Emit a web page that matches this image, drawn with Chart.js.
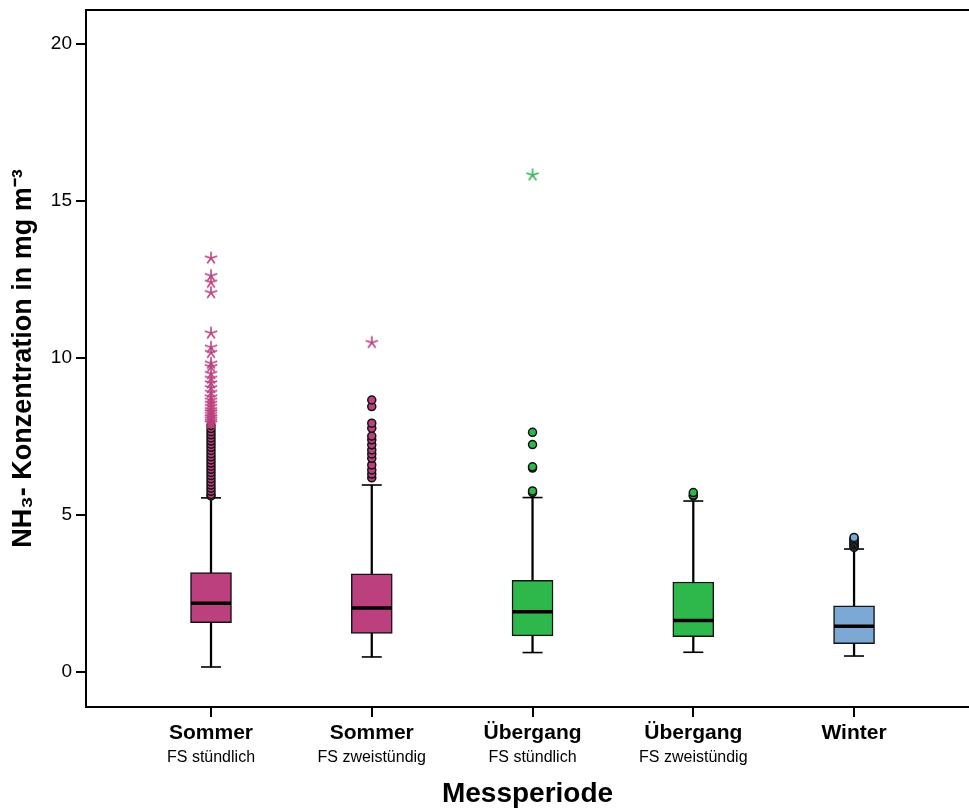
<!DOCTYPE html>
<html lang="de">
<head>
<meta charset="UTF-8">
<title>NH3-Konzentration je Messperiode</title>
<script src="https://cdn.jsdelivr.net/npm/chart.js"></script>
<style>
    body { margin: 0; background: #fff; }
    .wrap { width: 969px; height: 809px; }
</style>
</head>
<body>
<div class="wrap"><canvas id="boxChart"></canvas></div>
<script>
// categories and box statistics (mg m-3)
const categories = ['Sommer', 'Sommer', 'Übergang', 'Übergang', 'Winter'];
const subtitles = ['FS stündlich', 'FS zweistündig', 'FS stündlich', 'FS zweistündig', ''];
const whiskerLow = [0.15, 0.47, 0.61, 0.62, 0.50];
const q1 = [1.56, 1.22, 1.14, 1.12, 0.89];
const median = [2.18, 2.03, 1.91, 1.63, 1.45];
const q3 = [3.16, 3.12, 2.91, 2.86, 2.10];
const whiskerHigh = [5.54, 5.95, 5.55, 5.44, 3.91];
const yTicks = [0, 5, 10, 15, 20];

// outliers (circles) and extreme values (stars)
const sommer1Circles = [5.6, 5.65, 5.75, 5.85, 5.95, 6.05, 6.15, 6.25, 6.35, 6.45, 6.55, 6.65,
    6.75, 6.85, 6.95, 7.05, 7.15, 7.25, 7.35, 7.45, 7.55, 7.65, 7.75, 7.85];
const sommer1Stars = [7.92, 7.98, 8.05, 8.12, 8.2, 8.28, 8.35, 8.45, 8.55, 8.65, 8.75, 8.9,
    9.05, 9.2, 9.35, 9.5, 9.72, 9.83, 10.17, 10.34, 10.79, 12.08, 12.41, 12.62, 13.18];
const sommer2Circles = [6.18, 6.30, 6.43, 6.59, 6.80, 6.94, 7.07, 7.23, 7.39, 7.51, 7.76, 7.92, 8.45, 8.66];
const sommer2Stars = [10.49];
const uebergang1Circles = [5.71, 5.76, 6.49, 6.53, 7.24, 7.63];
const uebergang1Stars = [15.83];
const uebergang2Circles = [5.60, 5.63, 5.71];
const uebergang2Stars = [];
const winterCircles = [3.96, 4.00, 4.04, 4.08, 4.12, 4.16, 4.20, 4.24, 4.28];
const winterStars = [];

const circleLists = [sommer1Circles, sommer2Circles, uebergang1Circles, uebergang2Circles, winterCircles];
const starLists = [sommer1Stars, sommer2Stars, uebergang1Stars, uebergang2Stars, winterStars];
const boxColors = ['#bc3f7e', '#bc3f7e', '#2eb84b', '#2eb84b', '#7ba8d5'];

const FONT = "'Liberation Sans', Arial, sans-serif";

function makeStar(color) {
    const c = document.createElement('canvas');
    c.width = 16; c.height = 16;
    const g = c.getContext('2d');
    g.strokeStyle = color;
    g.lineWidth = 1.6;
    g.beginPath();
    for (let k = 0; k < 5; k++) {
        const a = -Math.PI / 2 + k * 2 * Math.PI / 5;
        g.moveTo(8, 8);
        g.lineTo(8 + 6.5 * Math.cos(a), 8 + 6.5 * Math.sin(a));
    }
    g.stroke();
    return c;
}
const starImages = boxColors.map(makeStar);

const pos = categories.map((_, i) => i + 1);

const circlePoints = [];
circleLists.forEach((list, i) => list.forEach(v => circlePoints.push({ x: i + 1, y: v, c: i })));
const starPoints = [];
starLists.forEach((list, i) => list.forEach(v => starPoints.push({ x: i + 1, y: v, c: i })));

const capPoints = [];
pos.forEach((x, i) => {
    capPoints.push({ x: x, y: whiskerLow[i] });
    capPoints.push({ x: x, y: whiskerHigh[i] });
});

const topFrame = {
    id: 'topFrame',
    afterDraw(chart) {
        const { ctx, chartArea } = chart;
        ctx.save();
        ctx.strokeStyle = '#000';
        ctx.lineWidth = 2;
        ctx.beginPath();
        ctx.moveTo(chartArea.left, chartArea.top);
        ctx.lineTo(chartArea.right, chartArea.top);
        ctx.stroke();
        ctx.restore();
    }
};

// no automatic label padding, the frame should sit where the layout says
function noPadding(scale) {
    scale.paddingTop = 0;
    scale.paddingBottom = 0;
    scale.paddingLeft = 0;
    scale.paddingRight = 0;
}

const xMin = 0.2224, xMax = 5.715;

new Chart(document.getElementById('boxChart'), {
    type: 'bar',
    data: {
        datasets: [
            {
                label: 'Whisker',
                data: pos.map((x, i) => ({ x: x, y: [whiskerLow[i], whiskerHigh[i]] })),
                backgroundColor: '#000',
                barThickness: 1.6,
                grouped: false,
                order: 5
            },
            {
                label: 'Box',
                data: pos.map((x, i) => ({ x: x, y: [q1[i], q3[i]] })),
                backgroundColor: boxColors,
                borderColor: '#151515',
                borderWidth: 1.5,
                borderSkipped: false,
                barThickness: 41,
                grouped: false,
                order: 4
            },
            {
                type: 'line',
                label: 'Median',
                data: pos.map((x, i) => ({ x: x, y: median[i] })),
                showLine: false,
                pointStyle: 'line',
                pointRadius: 20,
                pointBorderWidth: 3.5,
                pointBorderColor: '#000',
                order: 3
            },
            {
                type: 'line',
                label: 'Caps',
                data: capPoints,
                showLine: false,
                pointStyle: 'line',
                pointRadius: 10,
                pointBorderWidth: 1.6,
                pointBorderColor: '#000',
                order: 3
            },
            {
                type: 'line',
                label: 'Ausreißer',
                data: circlePoints,
                showLine: false,
                pointStyle: 'circle',
                pointRadius: 4,
                pointBorderWidth: 1.5,
                pointBorderColor: '#111',
                pointBackgroundColor: ctx => boxColors[ctx.raw ? ctx.raw.c : 0],
                order: 2
            },
            {
                type: 'line',
                label: 'Extremwerte',
                data: starPoints,
                showLine: false,
                pointStyle: ctx => starImages[ctx.raw ? ctx.raw.c : 0],
                pointRadius: 7,
                order: 1
            }
        ]
    },
    options: {
        responsive: true,
        maintainAspectRatio: false,
        animation: false,
        layout: { autoPadding: false, padding: { top: 10, left: 0, right: 0, bottom: 0 } },
        plugins: {
            legend: { display: false },
            tooltip: { enabled: false }
        },
        scales: {
            x: {
                type: 'linear',
                position: 'bottom',
                min: xMin,
                max: xMax,
                offset: false,
                afterBuildTicks: scale => { scale.ticks = pos.map(v => ({ value: v })); },
                afterFit: scale => { scale.height = 38; noPadding(scale); },
                grid: { offset: false, drawOnChartArea: false, tickLength: 10, color: '#000', lineWidth: 2 },
                border: { display: true, color: '#000', width: 2 },
                ticks: {
                    autoSkip: false, maxRotation: 0, padding: 4,
                    color: '#000',
                    font: { family: FONT, size: 21, weight: 'bold' },
                    callback: v => categories[v - 1]
                }
            },
            x2: {
                type: 'linear',
                position: 'bottom',
                min: xMin,
                max: xMax,
                offset: false,
                afterBuildTicks: scale => { scale.ticks = pos.map(v => ({ value: v })); },
                afterFit: scale => { scale.height = 64; noPadding(scale); },
                grid: { display: false, drawTicks: false, offset: false },
                border: { display: false },
                ticks: {
                    autoSkip: false, maxRotation: 0, padding: 3,
                    color: '#000',
                    font: { family: FONT, size: 16 },
                    callback: v => subtitles[v - 1]
                },
                title: {
                    display: true,
                    text: 'Messperiode',
                    color: '#000',
                    font: { family: FONT, size: 28, weight: 'bold' },
                    padding: { top: 2, bottom: -2 }
                }
            },
            y: {
                type: 'linear',
                min: -1.125,
                max: 21.09,
                afterBuildTicks: scale => { scale.ticks = yTicks.map(v => ({ value: v })); },
                afterFit: scale => { scale.width = 86; noPadding(scale); },
                grid: { drawOnChartArea: false, tickLength: 10, color: '#000', lineWidth: 2 },
                border: { display: true, color: '#000', width: 2 },
                ticks: {
                    padding: 4,
                    color: '#000',
                    font: { family: FONT, size: 19 }
                },
                title: {
                    display: true,
                    text: 'NH₃- Konzentration in mg m⁻³',
                    color: '#000',
                    font: { family: FONT, size: 27, weight: 'bold' },
                    padding: { top: 7, bottom: 0 }
                }
            }
        }
    },
    plugins: [topFrame]
});
</script>
</body>
</html>
